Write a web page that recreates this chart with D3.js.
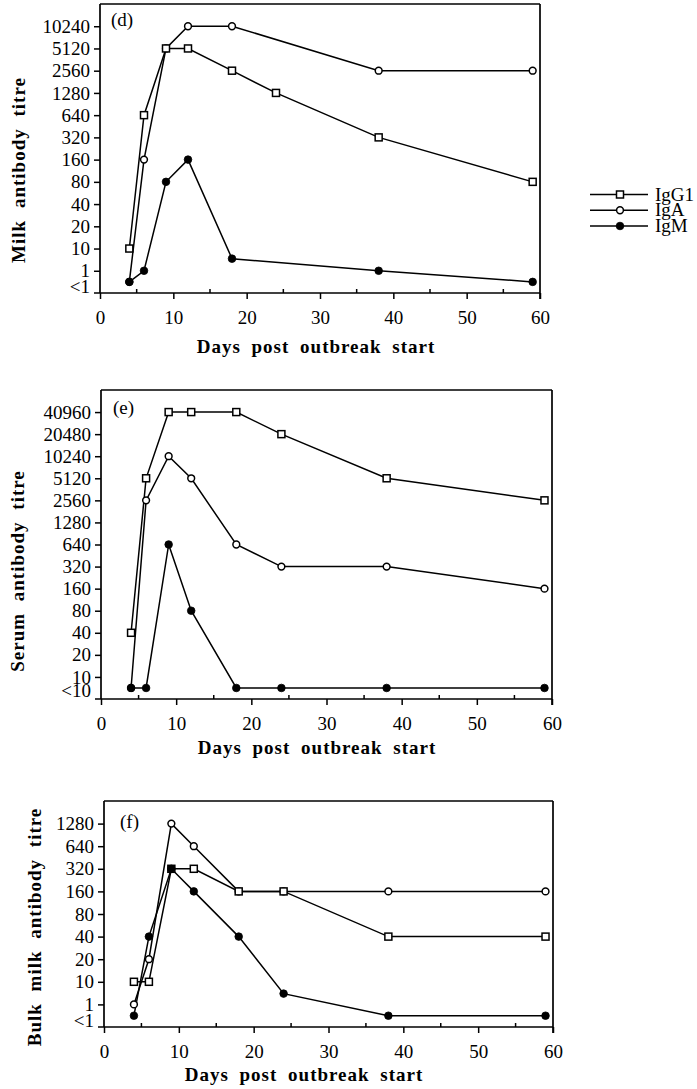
<!DOCTYPE html>
<html><head><meta charset="utf-8">
<script src="https://cdn.jsdelivr.net/npm/d3@7/dist/d3.min.js"></script>
<style>
body{margin:0;background:#fff;}
text{font-family:"Liberation Serif","Times New Roman",serif;fill:#000;}
</style></head>
<body>
<svg id="chart" width="697" height="1089"></svg>
<script>
// ---- data ----
const seriesNames = ["IgG1", "IgA", "IgM"];
const xTicks = [0, 10, 20, 30, 40, 50, 60];
const xMinorTicks = [5, 15, 25, 35, 45, 55];

// Panel (d) milk
const dDaysG1 = [4, 6, 9, 12, 18, 24, 38, 59];
const dIgG1 = [10, 640, 5120, 5120, 2560, 1280, 320, 80];
const dDaysA = [4, 6, 9, 12, 18, 38, 59];
const dIgA = [0.5, 160, 5120, 10240, 10240, 2560, 2560];
const dDaysM = [4, 6, 9, 12, 18, 38, 59];
const dIgM = [0.5, 1, 80, 160, 3.5, 1, 0.5];
const dTickValues = [0.5, 1, 10, 20, 40, 80, 160, 320, 640, 1280, 2560, 5120, 10240];
const dTickLabels = ["<1", "1", "10", "20", "40", "80", "160", "320", "640", "1280", "2560", "5120", "10240"];

// Panel (e) serum
const eDays = [4, 6, 9, 12, 18, 24, 38, 59];
const eIgG1 = [40, 5120, 40960, 40960, 40960, 20480, 5120, 2560];
const eIgA = [5, 2560, 10240, 5120, 640, 320, 320, 160];
const eIgM = [5, 5, 640, 80, 5, 5, 5, 5];
const eTickValues = [5, 10, 20, 40, 80, 160, 320, 640, 1280, 2560, 5120, 10240, 20480, 40960];
const eTickLabels = ["<10", "10", "20", "40", "80", "160", "320", "640", "1280", "2560", "5120", "10240", "20480", "40960"];

// Panel (f) bulk milk
const fDays = [4, 6, 9, 12, 18, 24, 38, 59];
const fIgG1 = [10, 10, 320, 320, 160, 160, 40, 40];
const fIgA = [1, 20, 1280, 640, 160, 160, 160, 160];
const fIgM = [0.5, 40, 320, 160, 40, 3, 0.5, 0.5];
const fTickValues = [0.5, 1, 10, 20, 40, 80, 160, 320, 640, 1280];
const fTickLabels = ["<1", "1", "10", "20", "40", "80", "160", "320", "640", "1280"];

const xTitle = "Days post outbreak start";

// ---- layout ----
const svg = d3.select("#chart");
const zip = (xs, ys) => xs.map((x, i) => ({x: x, y: ys[i]}));

const panels = [
  {label: "(d)", ytitle: "Milk antibody titre",
   x0: 100, x1: 540, top: 4, bottom: 293,
   ydomain: [0.25, 0.5, 1, 10, 20480], ysteps: [0, 0.5, 1, 2, 13],
   ticks: dTickValues, tickLabels: dTickLabels, lessDy: 5,
   series: {IgG1: zip(dDaysG1, dIgG1), IgA: zip(dDaysA, dIgA), IgM: zip(dDaysM, dIgM)},
   labelPos: [111, 26], ytPos: [25, 170], xtPos: [316, 353]},
  {label: "(e)", ytitle: "Serum antibody titre",
   x0: 101, x1: 552, top: 390, bottom: 699,
   ydomain: [2.5, 5, 10, 81920], ysteps: [0, 0.5, 1, 14],
   ticks: eTickValues, tickLabels: eTickLabels, lessDy: 2,
   series: {IgG1: zip(eDays, eIgG1), IgA: zip(eDays, eIgA), IgM: zip(eDays, eIgM)},
   labelPos: [113, 414], ytPos: [24, 571], xtPos: [317, 754]},
  {label: "(f)", ytitle: "Bulk milk antibody titre",
   x0: 104, x1: 553, top: 801, bottom: 1027,
   ydomain: [0.25, 0.5, 1, 10, 2560], ysteps: [0, 0.5, 1, 2, 10],
   ticks: fTickValues, tickLabels: fTickLabels, lessDy: 5,
   series: {IgG1: zip(fDays, fIgG1), IgA: zip(fDays, fIgA), IgM: zip(fDays, fIgM)},
   labelPos: [120, 828], ytPos: [41, 927], xtPos: [304, 1081]}
];

function drawMarker(g, name, cx, cy) {
  if (name === "IgG1") {
    g.append("rect").attr("x", cx - 3.5).attr("y", cy - 3.5).attr("width", 7).attr("height", 7)
      .attr("fill", "#fff").attr("stroke", "#000").attr("stroke-width", 1.5);
  } else if (name === "IgA") {
    g.append("circle").attr("cx", cx).attr("cy", cy).attr("r", 3.4)
      .attr("fill", "#fff").attr("stroke", "#000").attr("stroke-width", 1.5);
  } else {
    g.append("circle").attr("cx", cx).attr("cy", cy).attr("r", 3.8)
      .attr("fill", "#000").attr("stroke", "#000").attr("stroke-width", 0.8);
  }
}

panels.forEach(p => {
  const g = svg.append("g");
  const x = d3.scaleLinear().domain([0, 60]).range([p.x0, p.x1]);
  const step = (p.bottom - p.top) / p.ysteps[p.ysteps.length - 1];
  const y = d3.scaleLog().base(2).domain(p.ydomain).range(p.ysteps.map(s => p.bottom - s * step));

  // frame
  g.append("line").attr("x1", p.x0 - 6).attr("x2", p.x1).attr("y1", p.bottom).attr("y2", p.bottom)
    .attr("stroke", "#000").attr("stroke-width", 1.7);
  g.append("line").attr("x1", p.x0).attr("x2", p.x1).attr("y1", p.top).attr("y2", p.top)
    .attr("stroke", "#000").attr("stroke-width", 1.5);
  g.append("line").attr("x1", p.x0).attr("x2", p.x0).attr("y1", p.top).attr("y2", p.bottom)
    .attr("stroke", "#000").attr("stroke-width", 1.7);
  g.append("line").attr("x1", p.x1).attr("x2", p.x1).attr("y1", p.top).attr("y2", p.bottom + 6)
    .attr("stroke", "#000").attr("stroke-width", 1.7);

  // x axis
  const xa = g.append("g").attr("transform", `translate(0,${p.bottom})`)
    .call(d3.axisBottom(x).tickValues(xTicks).tickSize(6).tickPadding(12).tickFormat(d3.format("d")));
  xa.select(".domain").remove();
  xa.selectAll("line").attr("stroke", "#000").attr("stroke-width", 1.5);
  xa.selectAll("text").attr("font-size", 19).attr("font-family", "Liberation Serif");
  g.selectAll(".minor").data(xMinorTicks).join("line")
    .attr("x1", d => x(d)).attr("x2", d => x(d))
    .attr("y1", p.bottom).attr("y2", p.bottom - 4)
    .attr("stroke", "#000").attr("stroke-width", 1.5);

  // y axis
  const ya = g.append("g").attr("transform", `translate(${p.x0},0)`)
    .call(d3.axisLeft(y).tickValues(p.ticks).tickSize(6).tickPadding(4)
      .tickFormat((d, i) => p.tickLabels[i]));
  ya.select(".domain").remove();
  ya.selectAll("line").attr("stroke", "#000").attr("stroke-width", 1.5);
  ya.selectAll("text").attr("font-size", 19).attr("font-family", "Liberation Serif");
  const firstTick = ya.selectAll(".tick").filter((d, i) => i === 0);
  firstTick.select("line").remove();
  firstTick.select("text").attr("y", p.lessDy);

  // series (IgA first, then IgG1, then IgM on top)
  const order = ["IgA", "IgG1", "IgM"];
  const line = d3.line().x(d => x(d.x)).y(d => y(d.y));
  order.forEach(name => {
    const data = p.series[name];
    g.append("path").attr("d", line(data)).attr("fill", "none")
      .attr("stroke", "#000").attr("stroke-width", 1.5);
  });
  order.forEach(name => {
    const mg = g.append("g");
    p.series[name].forEach(d => drawMarker(mg, name, x(d.x), y(d.y)));
  });

  // panel label
  g.append("text").attr("x", p.labelPos[0]).attr("y", p.labelPos[1])
    .attr("font-size", 19).text(p.label);

  // axis titles
  g.append("text").attr("transform", `translate(${p.ytPos[0]},${p.ytPos[1]}) rotate(-90)`)
    .attr("text-anchor", "middle").attr("font-size", 19).attr("font-weight", "bold")
    .style("letter-spacing", "1px").style("word-spacing", "6px").text(p.ytitle);
  g.append("text").attr("x", p.xtPos[0]).attr("y", p.xtPos[1])
    .attr("text-anchor", "middle").attr("font-size", 19).attr("font-weight", "bold")
    .style("letter-spacing", "1px").style("word-spacing", "5px").text(xTitle);
});

// legend
const legend = svg.append("g");
const legendY = d3.scalePoint().domain(seriesNames).range([194.5, 226]);
seriesNames.forEach(name => {
  const yy = legendY(name);
  legend.append("line").attr("x1", 590).attr("x2", 648).attr("y1", yy).attr("y2", yy)
    .attr("stroke", "#000").attr("stroke-width", 1.5);
  drawMarker(legend, name, 620, yy);
  legend.append("text").attr("x", 655).attr("y", yy + 6).attr("font-size", 19).text(name);
});
</script>
</body></html>
